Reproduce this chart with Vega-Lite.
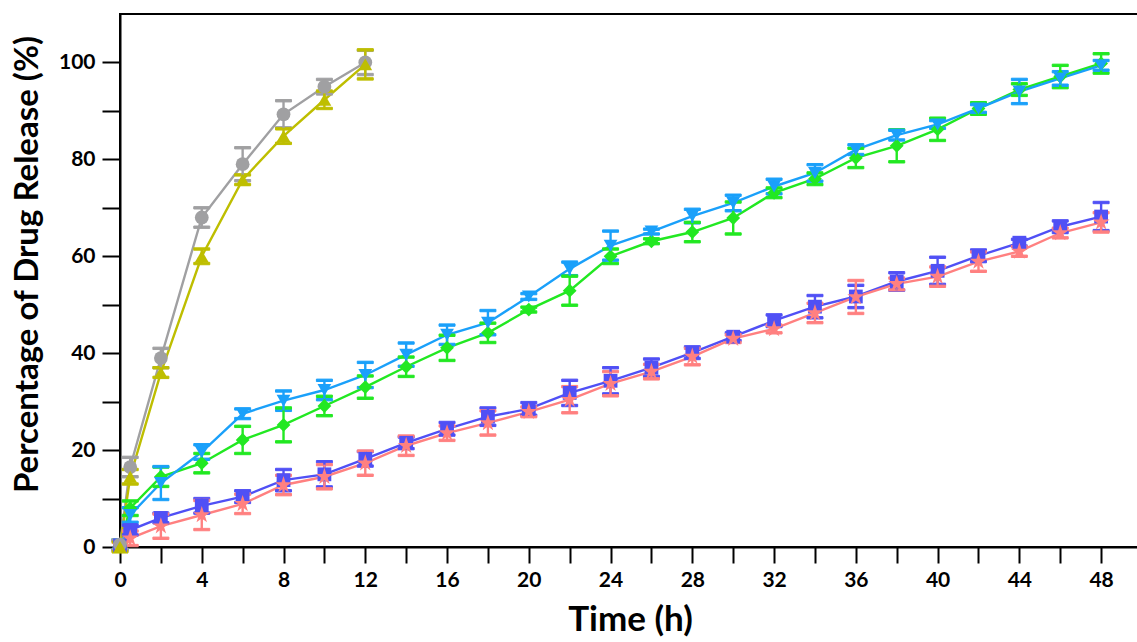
{
  "$schema": "https://vega.github.io/schema/vega-lite/v6.json",
  "width": 1022,
  "height": 533,
  "autosize": "none",
  "padding": {"left": 120, "top": 14, "right": 0, "bottom": 95},
  "background": "white",
  "config": {
    "view": {"stroke": "black", "strokeWidth": 2},
    "font": "Lato",
    "axis": {"domainColor": "black", "domainWidth": 2, "tickColor": "black", "tickWidth": 2, "grid": false, "labelFont": "Lato", "labelFontWeight": "bold", "labelFontSize": 21, "labelColor": "black", "titleFont": "Lato", "titleFontWeight": "bold", "titleColor": "black"}
  },
  "data": {"values": [
    {"s":"Lipo-CDDP","t":0,"v":0.5,"e":1},{"s":"Lipo-CDDP","t":0.5,"v":8,"e":1.5},{"s":"Lipo-CDDP","t":2,"v":14.5,"e":2},{"s":"Lipo-CDDP","t":4,"v":17.3,"e":2},{"s":"Lipo-CDDP","t":6,"v":22.1,"e":2.8},{"s":"Lipo-CDDP","t":8,"v":25.2,"e":3.5},{"s":"Lipo-CDDP","t":10,"v":29.1,"e":2},{"s":"Lipo-CDDP","t":12,"v":33,"e":2.3},{"s":"Lipo-CDDP","t":14,"v":37.2,"e":2},{"s":"Lipo-CDDP","t":16,"v":41.1,"e":2.6},{"s":"Lipo-CDDP","t":18,"v":44.2,"e":2},{"s":"Lipo-CDDP","t":20,"v":49,"e":0.5},{"s":"Lipo-CDDP","t":22,"v":52.9,"e":3},{"s":"Lipo-CDDP","t":24,"v":60,"e":1.5},{"s":"Lipo-CDDP","t":26,"v":63.1,"e":0.5},{"s":"Lipo-CDDP","t":28,"v":65,"e":2},{"s":"Lipo-CDDP","t":30,"v":67.9,"e":3.3},{"s":"Lipo-CDDP","t":32,"v":73.1,"e":1},{"s":"Lipo-CDDP","t":34,"v":76,"e":1.2},{"s":"Lipo-CDDP","t":36,"v":80.3,"e":2},{"s":"Lipo-CDDP","t":38,"v":82.8,"e":3.3},{"s":"Lipo-CDDP","t":40,"v":86.2,"e":2.3},{"s":"Lipo-CDDP","t":42,"v":90.5,"e":1.2},{"s":"Lipo-CDDP","t":44,"v":94.4,"e":1.2},{"s":"Lipo-CDDP","t":46,"v":97.1,"e":2.3},{"s":"Lipo-CDDP","t":48,"v":99.8,"e":2},
    {"s":"Lipo-DADS","t":0,"v":0.5,"e":1},{"s":"Lipo-DADS","t":0.5,"v":6.6,"e":1.5},{"s":"Lipo-DADS","t":2,"v":13.2,"e":3.4},{"s":"Lipo-DADS","t":4,"v":19.6,"e":1.5},{"s":"Lipo-DADS","t":6,"v":27.5,"e":1},{"s":"Lipo-DADS","t":8,"v":30.2,"e":2},{"s":"Lipo-DADS","t":10,"v":32.4,"e":2},{"s":"Lipo-DADS","t":12,"v":35.5,"e":2.6},{"s":"Lipo-DADS","t":14,"v":39.7,"e":2.4},{"s":"Lipo-DADS","t":16,"v":43.8,"e":2},{"s":"Lipo-DADS","t":18,"v":46.3,"e":2.5},{"s":"Lipo-DADS","t":20,"v":51.7,"e":0.6},{"s":"Lipo-DADS","t":22,"v":57.4,"e":1.4},{"s":"Lipo-DADS","t":24,"v":62.2,"e":3},{"s":"Lipo-DADS","t":26,"v":65.1,"e":0.5},{"s":"Lipo-DADS","t":28,"v":68.3,"e":1.4},{"s":"Lipo-DADS","t":30,"v":71,"e":1.6},{"s":"Lipo-DADS","t":32,"v":74.4,"e":1.5},{"s":"Lipo-DADS","t":34,"v":77.2,"e":1.7},{"s":"Lipo-DADS","t":36,"v":82,"e":1},{"s":"Lipo-DADS","t":38,"v":85,"e":1},{"s":"Lipo-DADS","t":40,"v":87.2,"e":0.8},{"s":"Lipo-DADS","t":42,"v":90.5,"e":0.8},{"s":"Lipo-DADS","t":44,"v":94,"e":2.5},{"s":"Lipo-DADS","t":46,"v":96.7,"e":1.4},{"s":"Lipo-DADS","t":48,"v":99.4,"e":1},
    {"s":"CDDP from Lipo-CDDP/DADS","t":0,"v":0.3,"e":1},{"s":"CDDP from Lipo-CDDP/DADS","t":0.5,"v":3.5,"e":1},{"s":"CDDP from Lipo-CDDP/DADS","t":2,"v":6,"e":1},{"s":"CDDP from Lipo-CDDP/DADS","t":4,"v":8.5,"e":1.5},{"s":"CDDP from Lipo-CDDP/DADS","t":6,"v":10.4,"e":1.2},{"s":"CDDP from Lipo-CDDP/DADS","t":8,"v":13.8,"e":2.2},{"s":"CDDP from Lipo-CDDP/DADS","t":10,"v":15,"e":2.6},{"s":"CDDP from Lipo-CDDP/DADS","t":12,"v":18.2,"e":1.5},{"s":"CDDP from Lipo-CDDP/DADS","t":14,"v":21.5,"e":1.2},{"s":"CDDP from Lipo-CDDP/DADS","t":16,"v":24.4,"e":1.3},{"s":"CDDP from Lipo-CDDP/DADS","t":18,"v":26.9,"e":1.8},{"s":"CDDP from Lipo-CDDP/DADS","t":20,"v":28.5,"e":1.3},{"s":"CDDP from Lipo-CDDP/DADS","t":22,"v":31.8,"e":2.6},{"s":"CDDP from Lipo-CDDP/DADS","t":24,"v":34.3,"e":2.7},{"s":"CDDP from Lipo-CDDP/DADS","t":26,"v":37,"e":1.8},{"s":"CDDP from Lipo-CDDP/DADS","t":28,"v":40.1,"e":1.2},{"s":"CDDP from Lipo-CDDP/DADS","t":30,"v":43.4,"e":0.8},{"s":"CDDP from Lipo-CDDP/DADS","t":32,"v":46.7,"e":1.2},{"s":"CDDP from Lipo-CDDP/DADS","t":34,"v":49.6,"e":2.3},{"s":"CDDP from Lipo-CDDP/DADS","t":36,"v":51.7,"e":2.3},{"s":"CDDP from Lipo-CDDP/DADS","t":38,"v":54.8,"e":1.8},{"s":"CDDP from Lipo-CDDP/DADS","t":40,"v":57,"e":2.8},{"s":"CDDP from Lipo-CDDP/DADS","t":42,"v":60.1,"e":1.2},{"s":"CDDP from Lipo-CDDP/DADS","t":44,"v":62.8,"e":0.7},{"s":"CDDP from Lipo-CDDP/DADS","t":46,"v":66.1,"e":1.2},{"s":"CDDP from Lipo-CDDP/DADS","t":48,"v":68.2,"e":2.9},
    {"s":"DADS from Lipo-CDDP/DADS","t":0,"v":0.2,"e":1},{"s":"DADS from Lipo-CDDP/DADS","t":0.5,"v":1.8,"e":1.5},{"s":"DADS from Lipo-CDDP/DADS","t":2,"v":4.3,"e":2.5},{"s":"DADS from Lipo-CDDP/DADS","t":4,"v":6.6,"e":3},{"s":"DADS from Lipo-CDDP/DADS","t":6,"v":8.9,"e":2},{"s":"DADS from Lipo-CDDP/DADS","t":8,"v":12.8,"e":2},{"s":"DADS from Lipo-CDDP/DADS","t":10,"v":14.5,"e":2.5},{"s":"DADS from Lipo-CDDP/DADS","t":12,"v":17.3,"e":2.5},{"s":"DADS from Lipo-CDDP/DADS","t":14,"v":20.9,"e":2},{"s":"DADS from Lipo-CDDP/DADS","t":16,"v":23.5,"e":1.5},{"s":"DADS from Lipo-CDDP/DADS","t":18,"v":25.6,"e":2.5},{"s":"DADS from Lipo-CDDP/DADS","t":20,"v":27.9,"e":1},{"s":"DADS from Lipo-CDDP/DADS","t":22,"v":30.4,"e":2.7},{"s":"DADS from Lipo-CDDP/DADS","t":24,"v":33.7,"e":2.5},{"s":"DADS from Lipo-CDDP/DADS","t":26,"v":36.2,"e":1.5},{"s":"DADS from Lipo-CDDP/DADS","t":28,"v":39.3,"e":1.7},{"s":"DADS from Lipo-CDDP/DADS","t":30,"v":43,"e":0.8},{"s":"DADS from Lipo-CDDP/DADS","t":32,"v":45,"e":0.8},{"s":"DADS from Lipo-CDDP/DADS","t":34,"v":48.3,"e":2},{"s":"DADS from Lipo-CDDP/DADS","t":36,"v":51.6,"e":3.4},{"s":"DADS from Lipo-CDDP/DADS","t":38,"v":54.3,"e":1.2},{"s":"DADS from Lipo-CDDP/DADS","t":40,"v":55.8,"e":2},{"s":"DADS from Lipo-CDDP/DADS","t":42,"v":58.9,"e":2},{"s":"DADS from Lipo-CDDP/DADS","t":44,"v":61,"e":1},{"s":"DADS from Lipo-CDDP/DADS","t":46,"v":64.8,"e":1},{"s":"DADS from Lipo-CDDP/DADS","t":48,"v":67,"e":2},
    {"s":"Free CDDP","t":0,"v":0.5,"e":1},{"s":"Free CDDP","t":0.5,"v":16.5,"e":2},{"s":"Free CDDP","t":2,"v":39,"e":2},{"s":"Free CDDP","t":4,"v":68,"e":2},{"s":"Free CDDP","t":6,"v":79,"e":3.4},{"s":"Free CDDP","t":8,"v":89.3,"e":2.8},{"s":"Free CDDP","t":10,"v":95,"e":1.5},{"s":"Free CDDP","t":12,"v":100,"e":2.5},
    {"s":"Free DADS","t":0,"v":0,"e":1},{"s":"Free DADS","t":0.5,"v":14.5,"e":1.5},{"s":"Free DADS","t":2,"v":36,"e":1},{"s":"Free DADS","t":4,"v":60,"e":1.5},{"s":"Free DADS","t":6,"v":75.8,"e":1},{"s":"Free DADS","t":8,"v":84.8,"e":1.5},{"s":"Free DADS","t":10,"v":92.3,"e":1.8},{"s":"Free DADS","t":12,"v":99.6,"e":3}
  ]},
  "encoding": {
    "x": {"field": "t", "type": "quantitative", "scale": {"domain": [0, 50], "nice": false, "zero": false},
      "axis": {"title": "Time (h)", "titleFontSize": 35, "titleX": 510, "titleY": 55, "values": [0,2,4,6,8,10,12,14,16,18,20,22,24,26,28,30,32,34,36,38,40,42,44,46,48], "labelExpr": "datum.value % 4 === 0 ? datum.label : ''", "tickSize": 16, "labelPadding": 6, "labelFlush": false, "labelOverlap": false,
        "encode": {"ticks": {"update": {"y2": {"signal": "datum.value % 4 === 0 ? 16 : 8"}}}}}},
    "y": {"field": "v", "type": "quantitative", "scale": {"domain": [0, 110], "nice": false},
      "axis": {"title": "Percentage of Drug Release (%)", "titleFontSize": 33, "titleX": -76, "titleY": 250, "values": [0,10,20,30,40,50,60,70,80,90,100], "labelExpr": "datum.value % 20 === 0 ? datum.label : ''", "tickSize": 18, "labelPadding": 7, "labelOverlap": false,
        "encode": {"ticks": {"update": {"x2": {"signal": "datum.value % 20 === 0 ? -18 : -9"}}}}}}
  },
  "layer": [
    {"mark": {"type": "line", "strokeWidth": 2.4},
      "encoding": {"stroke": {"field": "s", "type": "nominal", "legend": null,
        "scale": {"domain": ["Free CDDP", "Lipo-CDDP", "CDDP from Lipo-CDDP/DADS", "Free DADS", "Lipo-DADS", "DADS from Lipo-CDDP/DADS"],
          "range": ["#A0A0A2", "#22E822", "#5050F5", "#BEBE00", "#1AA0FA", "#FF8080"]}}}},
    {"mark": {"type": "errorbar", "ticks": {"size": 16, "thickness": 2.4, "opacity": 1}, "rule": {"strokeWidth": 2.4, "opacity": 1}},
      "encoding": {"yError": {"field": "e"},
        "stroke": {"field": "s", "type": "nominal", "legend": null},
        "fill": {"field": "s", "type": "nominal", "legend": null,
          "scale": {"domain": ["Free CDDP", "Lipo-CDDP", "CDDP from Lipo-CDDP/DADS", "Free DADS", "Lipo-DADS", "DADS from Lipo-CDDP/DADS"],
            "range": ["#A0A0A2", "#22E822", "#5050F5", "#BEBE00", "#1AA0FA", "#FF8080"]}}}},
    {"mark": {"type": "point", "filled": true, "opacity": 1, "size": 190},
      "encoding": {
        "color": {"field": "s", "type": "nominal",
          "scale": {"domain": ["Free CDDP", "Lipo-CDDP", "CDDP from Lipo-CDDP/DADS", "Free DADS", "Lipo-DADS", "DADS from Lipo-CDDP/DADS"],
            "range": ["#A0A0A2", "#22E822", "#5050F5", "#BEBE00", "#1AA0FA", "#FF8080"]},
          "legend": {"title": null, "orient": "none", "legendX": 425, "legendY": 446, "columns": 3, "direction": "horizontal",
            "strokeColor": "black", "cornerRadius": 10, "padding": 9, "fillColor": "white",
            "symbolSize": 110, "symbolOffset": 13, "labelOffset": 18, "columnPadding": 25, "rowPadding": 9,
            "labelFont": "Lato", "labelFontSize": 16, "labelFontWeight": "bold", "labelColor": "black", "labelLimit": 400}},
        "shape": {"field": "s", "type": "nominal",
          "scale": {"domain": ["Free CDDP", "Lipo-CDDP", "CDDP from Lipo-CDDP/DADS", "Free DADS", "Lipo-DADS", "DADS from Lipo-CDDP/DADS"],
            "range": ["circle", "diamond", "square", "triangle-up", "triangle-down", "M0,-1.3L0.292,-0.402L1.236,-0.402L0.472,0.153L0.764,1.052L0,0.497L-0.764,1.052L-0.472,0.153L-1.236,-0.402L-0.292,-0.402Z"]}}
      }}
  ]
}
